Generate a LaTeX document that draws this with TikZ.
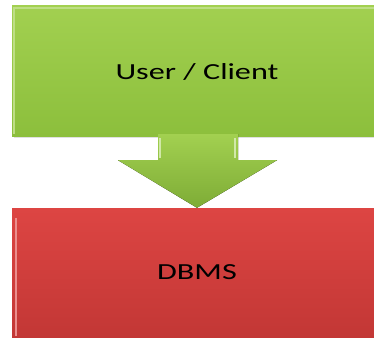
\documentclass[tikz,border=0pt]{standalone}
\usepackage{fontspec}
\setmainfont{Carlito}
\usetikzlibrary{calc,positioning}
\definecolor{boxgreen}{HTML}{A2D050}
\definecolor{boxgreendk}{HTML}{8CBF3C}
\definecolor{boxred}{HTML}{DD4543}
\definecolor{boxreddk}{HTML}{C23735}
\tikzset{
  layer/.style={minimum width=364pt,inner sep=0pt,draw=none,
    font=\fontsize{23}{26}\selectfont},
  userbox/.style={layer,minimum height=130pt,top color=boxgreen,bottom color=boxgreendk},
  dbmsbox/.style={layer,minimum height=132pt,top color=boxred,bottom color=boxreddk},
}
\newcommand{\wide}[1]{\scalebox{1.4}[1]{#1}}
\begin{document}
\begin{tikzpicture}[x=1pt,y=-1pt]
\useasboundingbox (0,0) rectangle (374,337);
% the two layers
\fill[black!12] (14,8) rectangle (378,138);
\node[userbox] (user) at (194,71) {};
\node at (197,72) {\fontsize{23}{26}\selectfont\wide{User / Client}};
\node[dbmsbox] (dbms) at (194,274) {};
\node at (197,272) {\fontsize{23}{26}\selectfont\wide{DBMS}};
% bevel edges
\draw[boxgreen!70!white,line width=2pt] ($(user.south west)+(2,-2)$) -- ($(user.north west)+(2,2)$) -- ($(user.north east)+(-2,2)$);
\draw[boxred!60!white,line width=2pt] ($(dbms.south west)+(4,-4)$) -- ($(dbms.north west)+(4,10)$);
% arrow between them
\coordinate (tip) at ($(dbms.north)+(3,0)$);
\fill[top color=boxgreen,bottom color=boxgreendk!90!black]
  ($(user.south)+(-36,-2)$) -- ++(0,26) -- ++(-40,0) -- (tip)
  -- ($(user.south)+(83,24)$) -- ++(-39,0) -- ++(0,-26) -- cycle;
\draw[boxgreen!50!white,line width=2pt] ($(user.south)+(-34,2)$) -- ++(0,20);
\draw[boxgreen!50!white,line width=2pt] ($(user.south)+(41,2)$) -- ++(0,20);
\end{tikzpicture}
\end{document}
